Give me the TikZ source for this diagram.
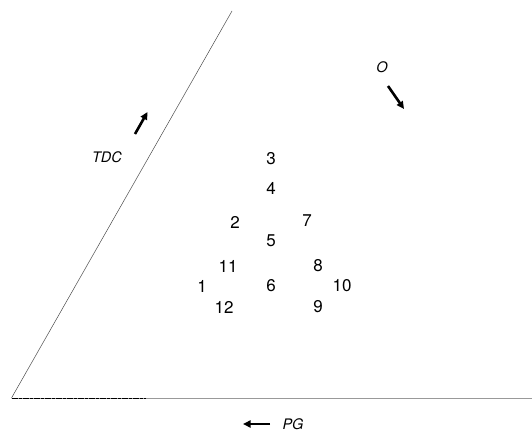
\documentclass[tikz,border=0pt]{standalone}
\usepackage{fontspec}
\setmainfont{TeX Gyre Heros}
\usetikzlibrary{arrows.meta}

\begin{document}
\begin{tikzpicture}[
  x=1pt, y=-1pt,
  >={Triangle[length=7.5pt,width=7pt]},
  num/.style={font=\fontsize{17}{19}\selectfont, inner sep=0pt},
  lab/.style={font=\fontsize{14.5}{16}\selectfont\itshape, inner sep=0pt},
  dirarrow/.style={->, line width=2.6pt},
  border/.style={line width=0.5pt, black!70},
]
\useasboundingbox (0,0) rectangle (532,431);
% the wedge
\coordinate (apex) at (11.5,398);
\coordinate (top)  at (232,11);
\coordinate (base) at (532,398);
\coordinate (mid)  at (146,398);
\draw[border] (apex) -- (top);
\draw[line width=0.8pt, black!40] (apex) -- (base);
\draw[line width=0.8pt, dash pattern=on 6pt off 1pt on 3pt off 1pt] (apex) -- (mid);
% numbered positions
\foreach \n/\x/\y in {3/271/159, 4/271/188, 2/235/222, 7/307/221, 5/271/241,
  11/228/266, 8/318/266, 1/202/286, 6/271/286, 10/342/286, 12/224/307, 9/318/307}
  \node[num] (p\n) at (\x,\y) {\n};
% direction labels
\node[lab] (tdc) at (107,157) {TDC};
\node[lab] (o)   at (382,67)  {O};
\node[lab] (pg)  at (293,424) {PG};
\coordinate (tdc0) at (135,134);
\coordinate (tdc1) at (147.5,112);
\coordinate (o0)   at (388,86);
\coordinate (o1)   at (404,109);
\coordinate (pg0)  at (270,424);
\coordinate (pg1)  at (243,424);
\draw[dirarrow] (tdc0) -- (tdc1);
\draw[dirarrow] (o0) -- (o1);
\draw[dirarrow] (pg0) -- (pg1);
\end{tikzpicture}
\end{document}
